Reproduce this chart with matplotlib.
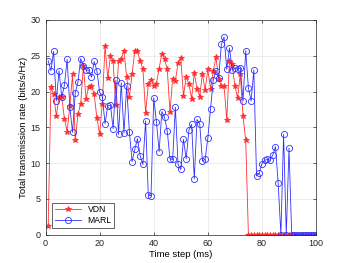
import numpy as np
import matplotlib
matplotlib.use("Agg")
import matplotlib.pyplot as plt

# time steps 1..100
steps = np.arange(1, 101)

vdn = [1.2, 20.6, 19.6, 16.6, 19.2, 19.2, 16.2, 14.4, 18.0, 22.4,
       13.2, 16.8, 18.3, 23.5, 19.0, 20.7, 20.8, 19.6, 16.3, 14.0,
       18.3, 26.4, 21.9, 24.9, 24.2, 18.1, 24.2, 24.6, 25.7, 22.0,
       19.2, 22.5, 25.6, 25.6, 24.2, 23.2, 17.0, 21.0, 21.6, 20.8,
       21.1, 23.2, 25.3, 24.5, 23.2, 17.1, 21.8, 21.5, 24.0, 24.7,
       19.4, 22.0, 21.1, 19.0, 22.6, 20.4, 19.3, 22.5, 20.2, 23.1,
       20.4, 22.8, 24.8, 21.8, 20.8, 20.8, 16.0, 24.2, 23.8, 20.8,
       19.1, 22.4, 16.6, 13.2, 0, 0, 0, 0, 0, 0,
       0, 0, 0, 0, 0, 0, 0, 0, 0, 0,
       0, 0, 0, 0, 0, 0, 0, 0, 0, 0]

marl = [24.3, 22.9, 25.6, 18.7, 22.9, 19.2, 20.9, 24.5, 17.8, 14.3,
        19.8, 21.3, 24.6, 23.6, 23.0, 23.0, 22.0, 24.2, 22.9, 19.9,
        19.3, 15.5, 18.0, 18.1, 14.8, 21.6, 14.0, 21.2, 14.2, 20.8,
        14.4, 10.2, 11.9, 13.4, 11.0, 9.8, 15.9, 5.5, 5.4, 19.1,
        15.8, 11.6, 17.2, 16.4, 14.5, 10.6, 10.5, 17.8, 9.8, 9.1,
        13.3, 10.6, 14.6, 15.4, 7.8, 16.1, 15.5, 10.3, 10.5, 13.5,
        17.6, 21.6, 22.9, 21.9, 26.6, 27.6, 23.1, 26.1, 23.0, 23.3,
        23.1, 23.3, 18.7, 25.7, 20.5, 18.7, 23.0, 8.2, 8.6, 9.9,
        10.4, 10.5, 10.4, 11.1, 12.3, 7.2, 0, 14.0, 0, 12.1,
        0, 0, 0, 0, 0, 0, 0, 0, 0, 0]

plt.rcParams['font.family'] = ['Liberation Sans', 'DejaVu Sans']
fig = plt.figure(figsize=(3.5, 2.63), dpi=100)
ax = fig.add_axes([0.13, 0.108, 0.773, 0.816])

ax.plot(steps, vdn, color='#ff3030', lw=0.6, marker='*', ms=3.8,
        mew=0.6, label='VDN')
ax.plot(steps, marl, color='#3030ff', lw=0.6, marker='o', ms=4.4,
        mfc='none', mew=0.6, label='MARL')

ax.set_xlim(0, 100); ax.set_ylim(0, 30)
ax.set_xticks([0, 20, 40, 60, 80, 100])
ax.set_yticks([0, 5, 10, 15, 20, 25, 30])
ax.grid(True, color='#e6e6e6', lw=0.5)
ax.set_axisbelow(True)
ax.tick_params(direction='in', top=True, right=True, labelsize=6.5,
               colors='#262626', length=2, width=0.5)
for s in ax.spines.values():
    s.set_color('#262626'); s.set_linewidth(0.5)
ax.set_xlabel('Time step (ms)', fontsize=6.8, labelpad=1)
ax.set_ylabel('Total transmission rate (bits/s/Hz)', fontsize=6.8, labelpad=2)
leg = ax.legend(loc='lower left', fontsize=6.2, fancybox=False, framealpha=1,
                edgecolor='#262626', borderpad=0.3, labelspacing=0.2,
                handlelength=3, borderaxespad=0.8)
leg.get_frame().set_linewidth(0.5)

fig.savefig('out.png', dpi=100)
